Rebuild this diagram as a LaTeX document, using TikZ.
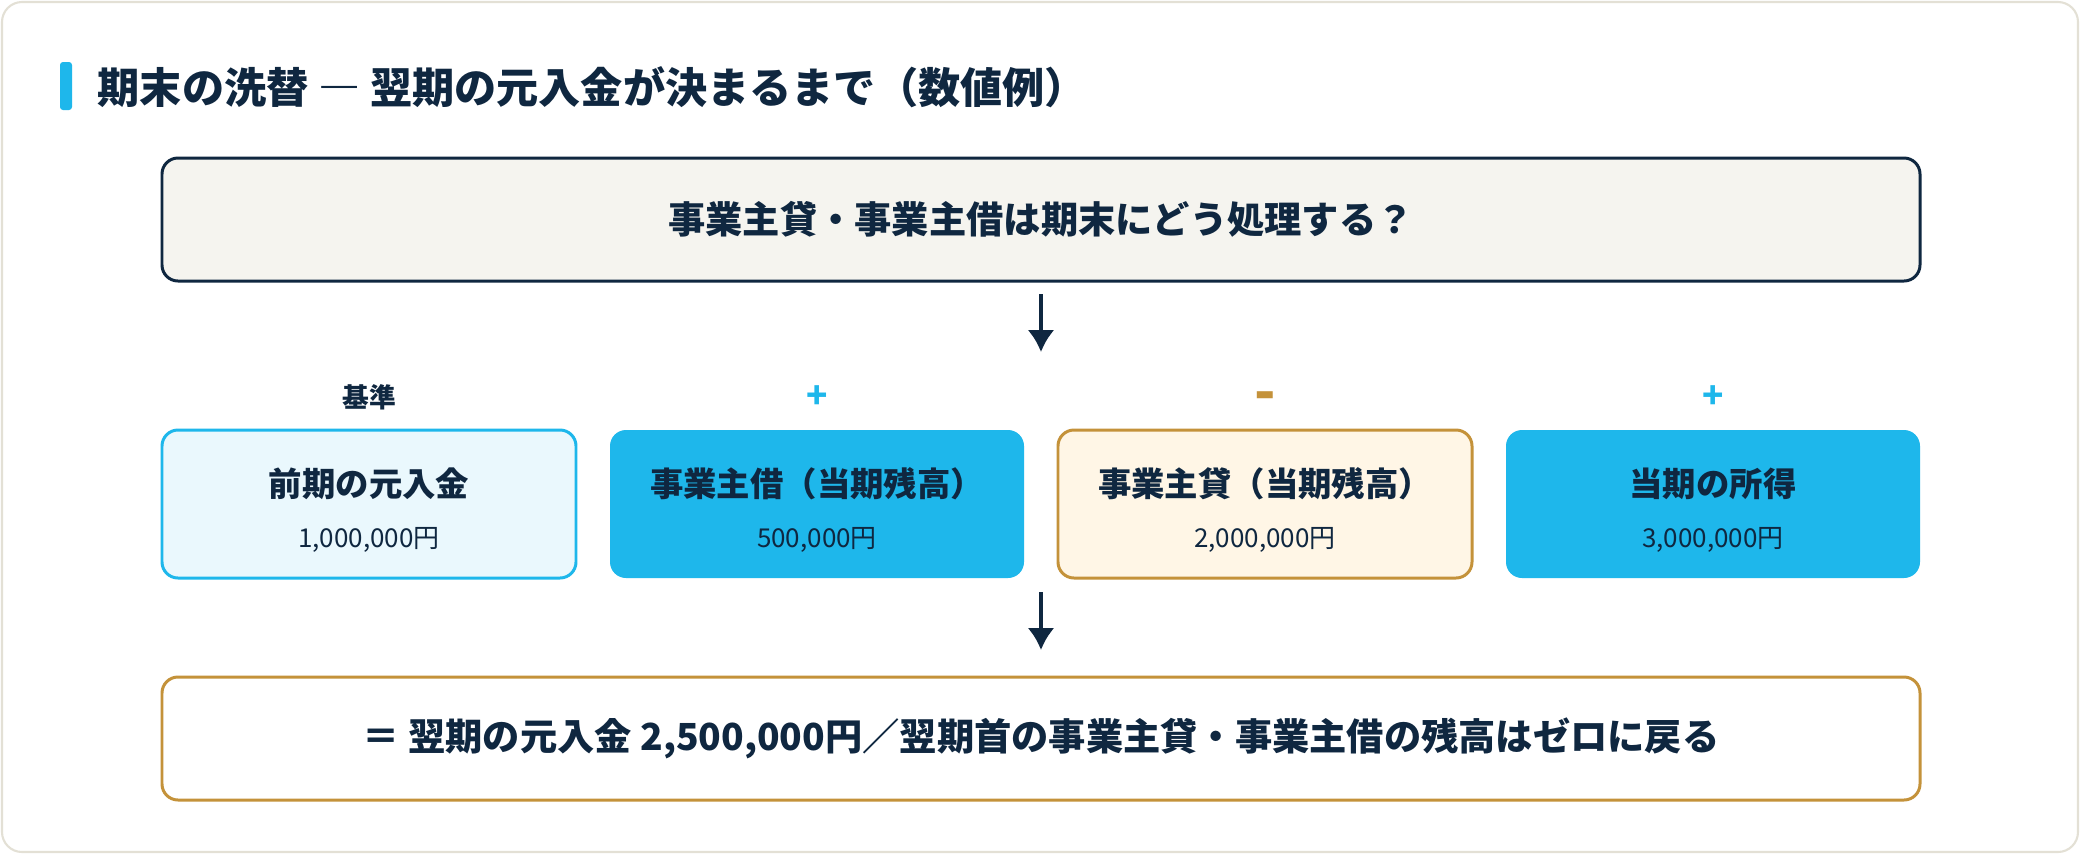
\documentclass[tikz,border=0pt]{standalone}
\usepackage{fontspec}
\setmainfont{Noto Sans CJK JP}
\usepackage{tikz}
\usetikzlibrary{arrows.meta,calc,positioning}

\definecolor{navy}{HTML}{0F2740}
\definecolor{sky}{HTML}{1EB7EB}
\definecolor{gold}{HTML}{C4923A}
\definecolor{skyfill}{HTML}{EAF8FD}
\definecolor{creamfill}{HTML}{FFF6E6}
\definecolor{greyfill}{HTML}{F5F4EF}
\definecolor{cardline}{HTML}{E3E0D5}

\newcommand{\boxtext}[2]{{\fontsize{9.5}{16.2}\selectfont\bfseries\rule{0pt}{11.5pt}#1}\\[2.6pt]{\fontsize{7.4}{16.2}\selectfont #2}}

\begin{document}
\begin{tikzpicture}[auto,>={Latex[length=0.22cm,width=0.27cm]}]
	\tikzstyle{block} = [rectangle, rounded corners=0.16cm, line width=0.85pt, outer sep=0pt, align=center, text=navy, minimum height=1.48cm, minimum width=4.14cm, inner sep=0pt]
	\tikzstyle{wide} = [block, minimum height=1.23cm, minimum width=17.58cm, font=\fontsize{10.6}{13}\selectfont\bfseries]
	\tikzstyle{sign} = [inner sep=0pt, font=\fontsize{7.6}{9}\selectfont\bfseries]
	\tikzstyle{flow} = [->, navy, line width=1.1pt]

	\useasboundingbox (0,0) rectangle (20.80,-8.54);
	\draw[cardline, line width=0.6pt, rounded corners=0.2cm, fill=white] (0.02,-0.02) rectangle (20.78,-8.52);
	\fill[sky, rounded corners=0.03cm] (0.60,-0.62) rectangle (0.72,-1.10);
	\node [anchor=west, inner sep=0pt, text=navy, font=\fontsize{12}{14}\selectfont\bfseries] (title) at (0.97,-0.87) {期末の洗替 ― 翌期の元入金が決まるまで（数値例）};

	\node [wide, draw=navy, fill=greyfill] (question) at (10.41,-2.195) {事業主貸・事業主借は期末にどう処理する？};

	\node [block, draw=sky, fill=skyfill] (prev) at (3.69,-5.04) {\boxtext{前期の元入金}{1,000,000円}};
	\node [block, fill=sky, right = 0.34cm of prev] (borrow) {\boxtext{事業主借（当期残高）}{500,000円}};
	\node [block, draw=gold, fill=creamfill, right = 0.34cm of borrow] (lend) {\boxtext{事業主貸（当期残高）}{2,000,000円}};
	\node [block, fill=sky, right = 0.34cm of lend] (income) {\boxtext{当期の所得}{3,000,000円}};

	\node [sign, text=navy] (base) at ($(prev.north)+(0,0.33)$) {基準};
	\node [sign, text=sky, font=\fontsize{10}{12}\selectfont\bfseries] (plus1) at ($(borrow.north)+(0,0.33)$) {+};
	\node [sign, text=gold, font=\fontsize{16}{18}\selectfont\bfseries] (minus) at ($(lend.north)+(0,0.28)$) {-};
	\node [sign, text=sky, font=\fontsize{10}{12}\selectfont\bfseries] (plus2) at ($(income.north)+(0,0.33)$) {+};

	\node [wide, draw=gold, fill=white] (result) at (10.41,-7.385) {＝ 翌期の元入金 2,500,000円／翌期首の事業主貸・事業主借の残高はゼロに戻る};

	\coordinate (midtop) at ($(borrow.north)!0.5!(lend.north)$);
	\coordinate (midbot) at ($(borrow.south)!0.5!(lend.south)$);

	\draw [flow, shorten <=0.13cm, shorten >=0.78cm] (question.south) -- (question.south |- midtop);
	\draw [flow, shorten <=0.14cm, shorten >=0.27cm] (midbot) -- (result.north);

\end{tikzpicture}
\end{document}
